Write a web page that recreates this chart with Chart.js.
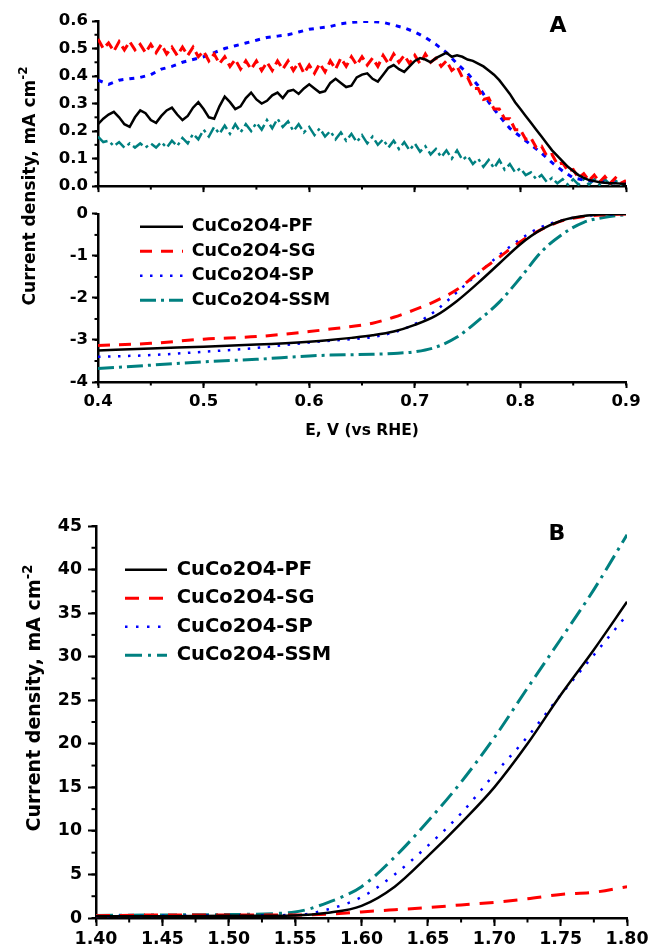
<!DOCTYPE html>
<html>
<head>
<meta charset="utf-8">
<script src="https://cdn.jsdelivr.net/npm/chart.js@4.4.1/dist/chart.umd.min.js"></script>
<style>
  html, body { margin: 0; padding: 0; background: #fff; }
  #page { position: relative; width: 652px; height: 952px; overflow: hidden;
          font-family: "DejaVu Sans", sans-serif; font-weight: bold; color: #000; }
  canvas { position: absolute; left: 0; }
  .lbl { position: absolute; white-space: nowrap; line-height: 1; transform: translate(-50%, -50%); }
  .ytitle { position: absolute; white-space: nowrap; line-height: 1;
            transform: translate(-50%, -50%) rotate(-90deg); }
  .ytitle sup { font-size: 70%; vertical-align: 0.6em; line-height: 0; }
</style>
</head>
<body>
<div id="page">
  <canvas id="cTop" width="652" height="200" style="top:0"></canvas>
  <canvas id="cLsv" width="652" height="250" style="top:200px"></canvas>
  <canvas id="cOer" width="652" height="452" style="top:500px"></canvas>

  <div class="ytitle" style="left:29px;top:186px;font-size:17px">Current density, mA cm<sup>-2</sup></div>
  <div class="ytitle" style="left:33px;top:698px;font-size:19px">Current density, mA cm<sup>-2</sup></div>
  <div class="lbl" style="left:558px;top:25px;font-size:22px">A</div>
  <div class="lbl" style="left:557px;top:533px;font-size:22px">B</div>
</div>

<script>
// ---- data ----
const names = ['CuCo2O4-PF', 'CuCo2O4-SG', 'CuCo2O4-SP', 'CuCo2O4-SSM'];

// panel A, upper trace (0.40 - 0.90 V)
const potTop = [];
for (let i = 0; i <= 100; i++) potTop.push(+(0.4 + i * 0.005).toFixed(3));
const potTopSP = [];
for (let i = 0; i <= 50; i++) potTopSP.push(+(0.4 + i * 0.01).toFixed(2));

const pfTop = [
  0.225, 0.245, 0.26, 0.27, 0.25, 0.225, 0.215, 0.25, 0.275, 0.265,
  0.24, 0.23, 0.255, 0.275, 0.285, 0.26, 0.24, 0.255, 0.285, 0.305,
  0.28, 0.25, 0.245, 0.29, 0.325, 0.305, 0.28, 0.29, 0.32, 0.34,
  0.315, 0.30, 0.31, 0.33, 0.34, 0.32, 0.345, 0.35, 0.335, 0.355,
  0.37, 0.355, 0.34, 0.345, 0.375, 0.39, 0.375, 0.36, 0.365, 0.395,
  0.405, 0.41, 0.39, 0.38, 0.405, 0.43, 0.44, 0.425, 0.415, 0.435,
  0.455, 0.465, 0.46, 0.45, 0.465, 0.475, 0.485, 0.47, 0.475, 0.47,
  0.46, 0.455, 0.445, 0.435, 0.42, 0.405, 0.385, 0.36, 0.335, 0.305,
  0.28, 0.255, 0.23, 0.205, 0.18, 0.155, 0.13, 0.11, 0.09, 0.07,
  0.055, 0.04, 0.03, 0.022, 0.018, 0.014, 0.012, 0.01, 0.01, 0.009,
  0.008
];
const sgTop = [
  0.535, 0.50, 0.52, 0.49, 0.525, 0.495, 0.525, 0.495, 0.515, 0.485,
  0.515, 0.485, 0.515, 0.48, 0.505, 0.475, 0.505, 0.475, 0.505, 0.47,
  0.49, 0.455, 0.48, 0.445, 0.47, 0.435, 0.46, 0.425, 0.455, 0.425,
  0.455, 0.42, 0.45, 0.42, 0.455, 0.425, 0.455, 0.42, 0.45, 0.41,
  0.44, 0.41, 0.445, 0.415, 0.455, 0.425, 0.465, 0.435, 0.47, 0.44,
  0.47, 0.44, 0.465, 0.435, 0.475, 0.445, 0.48, 0.45, 0.475, 0.445,
  0.475, 0.445, 0.48, 0.45, 0.465, 0.435, 0.455, 0.42, 0.435, 0.395,
  0.395, 0.355, 0.355, 0.315, 0.32, 0.28, 0.28, 0.245, 0.245, 0.205,
  0.205, 0.17, 0.175, 0.14, 0.145, 0.11, 0.115, 0.08, 0.085, 0.055,
  0.06, 0.03, 0.045, 0.02, 0.04, 0.015, 0.035, 0.01, 0.03, 0.01,
  0.02
];
const spTop = [
  0.385, 0.37, 0.385, 0.39, 0.395, 0.405, 0.425, 0.435, 0.45, 0.46,
  0.47, 0.485, 0.50, 0.51, 0.52, 0.53, 0.54, 0.545, 0.55, 0.56,
  0.57, 0.575, 0.58, 0.59, 0.595, 0.598, 0.598, 0.595, 0.585, 0.575,
  0.56, 0.54, 0.515, 0.485, 0.445, 0.41, 0.365, 0.305, 0.255, 0.21,
  0.18, 0.15, 0.12, 0.085, 0.055, 0.03, 0.022, 0.018, 0.015, 0.012,
  0.01
];
const ssmTop = [
  0.18, 0.16, 0.165, 0.145, 0.16, 0.14, 0.155, 0.14, 0.155, 0.14,
  0.155, 0.14, 0.16, 0.14, 0.165, 0.145, 0.175, 0.155, 0.19, 0.17,
  0.205, 0.18, 0.215, 0.19, 0.22, 0.19, 0.225, 0.195, 0.225, 0.2,
  0.23, 0.205, 0.24, 0.21, 0.245, 0.215, 0.235, 0.2, 0.225, 0.195,
  0.215, 0.185, 0.21, 0.18, 0.2, 0.17, 0.195, 0.165, 0.19, 0.16,
  0.185, 0.155, 0.18, 0.15, 0.17, 0.14, 0.165, 0.135, 0.16, 0.13,
  0.155, 0.125, 0.145, 0.115, 0.135, 0.105, 0.13, 0.1, 0.13, 0.095,
  0.11, 0.08, 0.1, 0.07, 0.095, 0.065, 0.095, 0.06, 0.08, 0.05,
  0.065, 0.04, 0.05, 0.025, 0.04, 0.015, 0.03, 0.01, 0.025, 0.005,
  0.025, 0.005, 0.025, 0.005, 0.025, 0.005, 0.025, 0.005, 0.02, 0.005,
  0.015
];

// panel A, lower trace (ORR polarisation)
const potLsv = [0.40, 0.45, 0.50, 0.55, 0.60, 0.62, 0.64, 0.66, 0.68, 0.70,
                0.72, 0.74, 0.76, 0.78, 0.80, 0.82, 0.84, 0.86, 0.88, 0.90];
const pfLsv  = [-3.25, -3.2, -3.16, -3.11, -3.04, -3.0, -2.95, -2.89, -2.8, -2.64,
                -2.42, -2.07, -1.64, -1.18, -0.72, -0.37, -0.15, -0.05, -0.01, 0];
const sgLsv  = [-3.13, -3.08, -2.98, -2.92, -2.8, -2.74, -2.68, -2.6, -2.46, -2.28,
                -2.07, -1.8, -1.4, -1.03, -0.66, -0.37, -0.16, -0.06, -0.02, 0];
const spLsv  = [-3.4, -3.36, -3.28, -3.19, -3.06, -3.02, -2.98, -2.93, -2.82, -2.62,
                -2.3, -1.86, -1.42, -0.98, -0.6, -0.31, -0.15, -0.05, -0.02, 0];
const ssmLsv = [-3.68, -3.6, -3.52, -3.46, -3.38, -3.36, -3.35, -3.34, -3.32, -3.28,
                -3.17, -2.93, -2.54, -2.1, -1.52, -0.9, -0.48, -0.2, -0.08, -0.02];

// panel B (OER)
const potOer = [1.40, 1.45, 1.50, 1.55, 1.575, 1.60, 1.625, 1.65, 1.675, 1.70, 1.725, 1.75, 1.775, 1.80];
const pfOer  = [0.2, 0.2, 0.25, 0.3, 0.6, 1.4, 3.6, 7.1, 10.9, 15.0, 20.0, 25.6, 30.8, 36.3];
const sgOer  = [0.25, 0.35, 0.35, 0.35, 0.45, 0.7, 0.95, 1.2, 1.5, 1.8, 2.2, 2.7, 2.95, 3.6];
const spOer  = [0.2, 0.25, 0.3, 0.35, 1.0, 2.4, 5.0, 8.3, 12.0, 16.5, 20.8, 25.6, 30.2, 34.8];
const ssmOer = [0.3, 0.35, 0.4, 0.7, 1.8, 3.6, 7.0, 11.1, 15.6, 20.7, 26.4, 32.0, 37.7, 44.0];

// tick labels
const xTicksA = [0.4, 0.5, 0.6, 0.7, 0.8, 0.9];
const yTicksTop = [0, 0.1, 0.2, 0.3, 0.4, 0.5, 0.6];
const yTicksLsv = [-4, -3, -2, -1, 0];
const xTicksB = [1.40, 1.45, 1.50, 1.55, 1.60, 1.65, 1.70, 1.75, 1.80];
const yTicksB = [0, 5, 10, 15, 20, 25, 30, 35, 40, 45];

// ---- helpers ----
const FONT = 'DejaVu Sans';
Chart.defaults.font.family = FONT;
Chart.defaults.color = '#000';

// short ticks half way between the labelled ones
const minorTicks = {
  id: 'minorTicks',
  afterDraw(chart, args, opts) {
    if (!opts.len) return;
    const ctx = chart.ctx;
    ctx.save();
    ctx.strokeStyle = '#000';
    ctx.lineWidth = 2;
    ['x', 'y'].forEach(id => {
      const step = opts[id];
      const s = chart.scales[id];
      if (!step || !s) return;
      const n = Math.round((s.max - s.min) / step);
      for (let i = 0; i <= n; i++) {
        const p = s.getPixelForValue(s.min + i * step);
        ctx.beginPath();
        if (s.isHorizontal()) { ctx.moveTo(p, s.top); ctx.lineTo(p, s.top + opts.len); }
        else { ctx.moveTo(s.right, p); ctx.lineTo(s.right - opts.len, p); }
        ctx.stroke();
      }
    });
    ctx.restore();
  }
};

// put the legend where the figure has it
const moveLegend = {
  id: 'moveLegend',
  afterLayout(chart, args, opts) {
    if (opts.x == null || !chart.legend) return;
    const lg = chart.legend;
    const w = lg.right - lg.left, h = lg.bottom - lg.top;
    lg.left = opts.x; lg.top = opts.y; lg.right = opts.x + w; lg.bottom = opts.y + h;
  }
};
Chart.register(minorTicks, moveLegend);

function axis(min, max, ticks, fmt, size, tickLen, pad, extra) {
  return Object.assign({
    type: 'linear', min: min, max: max,
    afterBuildTicks: s => { s.ticks = ticks.map(v => ({ value: v })); },
    ticks: { callback: fmt, font: { family: FONT, size: size, weight: 'bold' }, color: '#000',
             padding: pad, maxRotation: 0, autoSkip: false },
    grid: { display: true, drawOnChartArea: false, drawTicks: true, tickLength: tickLen,
            tickWidth: 2, tickColor: '#000', color: '#000' },
    border: { display: true, color: '#000', width: 2.5 }
  }, extra || {});
}

function line(label, xs, ys, style, smooth) {
  return Object.assign({
    label: label,
    data: xs.map((x, i) => ({ x: x, y: ys[i] })),
    pointRadius: 0, pointHoverRadius: 0, fill: false, tension: 0,
    cubicInterpolationMode: smooth ? 'monotone' : 'default'
  }, style);
}

function legendOpts(size, pad, lineLen) {
  return {
    position: 'chartArea', align: 'start',
    labels: {
      usePointStyle: true, pointStyleWidth: lineLen, padding: pad,
      font: { family: FONT, size: size, weight: 'bold' }, color: '#000',
      generateLabels: chart => chart.data.datasets.map((d, i) => ({
        text: d.label, strokeStyle: d.borderColor, fillStyle: d.borderColor,
        lineWidth: d.borderWidth, lineDash: d.borderDash || [], pointStyle: 'line',
        fontColor: '#000', hidden: false, datasetIndex: i
      }))
    }
  };
}

const fix1 = v => v.toFixed(1);
const fix2 = v => v.toFixed(2);
const int0 = v => String(v);

// ---- panel A, upper ----
const topX = axis(0.4, 0.9, xTicksA, fix1, 16.5, 6, 4,
                  { afterFit: s => { s.height = 10; } });
topX.ticks.display = false;   // tick marks only, no labels

new Chart(document.getElementById('cTop'), {
  type: 'line',
  data: {
    datasets: [
      line(names[0], potTop, pfTop, { borderColor: '#000000', borderWidth: 2.5 }),
      line(names[1], potTop, sgTop, { borderColor: '#ff0000', borderWidth: 3, borderDash: [10, 5] }),
      line(names[2], potTopSP, spTop, { borderColor: '#0000ff', borderWidth: 3, borderDash: [5, 6] }),
      line(names[3], potTop, ssmTop, { borderColor: '#008080', borderWidth: 2.5, borderDash: [12, 4, 3, 4] })
    ]
  },
  options: {
    responsive: false, animation: false, events: [],
    layout: { padding: { left: 0, right: 26, top: 21, bottom: 0 } },
    scales: {
      x: topX,
      y: axis(0, 0.6, yTicksTop, fix1, 16.5, 6, 4,
              { afterFit: s => { s.width = 98; } })
    },
    plugins: {
      legend: { display: false }, tooltip: { enabled: false },
      minorTicks: { x: 0.05, y: 0.05, len: 3.5 }
    }
  }
});

// ---- panel A, lower ----
new Chart(document.getElementById('cLsv'), {
  type: 'line',
  data: {
    datasets: [
      line(names[0], potLsv, pfLsv, { borderColor: '#000000', borderWidth: 2.5 }, true),
      line(names[1], potLsv, sgLsv, { borderColor: '#ff0000', borderWidth: 3, borderDash: [12, 9] }, true),
      line(names[2], potLsv, spLsv, { borderColor: '#0000ff', borderWidth: 2.5, borderDash: [2.5, 7.5] }, true),
      line(names[3], potLsv, ssmLsv, { borderColor: '#008080', borderWidth: 3, borderDash: [16, 5, 3, 5] }, true)
    ]
  },
  options: {
    responsive: false, animation: false, events: [],
    layout: { padding: { left: 0, right: 26, top: 13, bottom: 0 } },
    scales: {
      x: axis(0.4, 0.9, xTicksA, fix1, 16.5, 6, 4, {
        afterFit: s => { s.height = 68; },
        title: { display: true, text: 'E, V (vs RHE)', color: '#000',
                 font: { family: FONT, size: 15.5, weight: 'bold' }, padding: { top: 0, bottom: 10 } }
      }),
      y: axis(-4, 0, yTicksLsv, int0, 16.5, 6, 4,
              { afterFit: s => { s.width = 98; } })
    },
    plugins: {
      legend: legendOpts(17.5, 7, 43), tooltip: { enabled: false },
      moveLegend: { x: 133, y: 11 },
      minorTicks: { x: 0.05, y: 0.5, len: 3.5 }
    }
  }
});

// ---- panel B ----
new Chart(document.getElementById('cOer'), {
  type: 'line',
  data: {
    datasets: [
      line(names[0], potOer, pfOer, { borderColor: '#000000', borderWidth: 2.5 }, true),
      line(names[1], potOer, sgOer, { borderColor: '#ff0000', borderWidth: 3, borderDash: [14, 10] }, true),
      line(names[2], potOer, spOer, { borderColor: '#0000ff', borderWidth: 2.5, borderDash: [2.5, 8.5] }, true),
      line(names[3], potOer, ssmOer, { borderColor: '#008080', borderWidth: 3, borderDash: [17, 6, 3, 6] }, true)
    ]
  },
  options: {
    responsive: false, animation: false, events: [],
    layout: { padding: { left: 0, right: 23, top: 26, bottom: 0 } },
    scales: {
      x: axis(1.4, 1.8, xTicksB, fix2, 17.4, 8, 3.5,
              { afterFit: s => { s.height = 34; } }),
      y: axis(0, 45, yTicksB, int0, 17.4, 8, 6,
              { afterFit: s => { s.width = 96; } })
    },
    plugins: {
      legend: legendOpts(19.5, 9, 42), tooltip: { enabled: false },
      moveLegend: { x: 116, y: 51 },
      minorTicks: { x: 0.025, y: 2.5, len: 4.5 }
    }
  }
});
</script>
</body>
</html>
